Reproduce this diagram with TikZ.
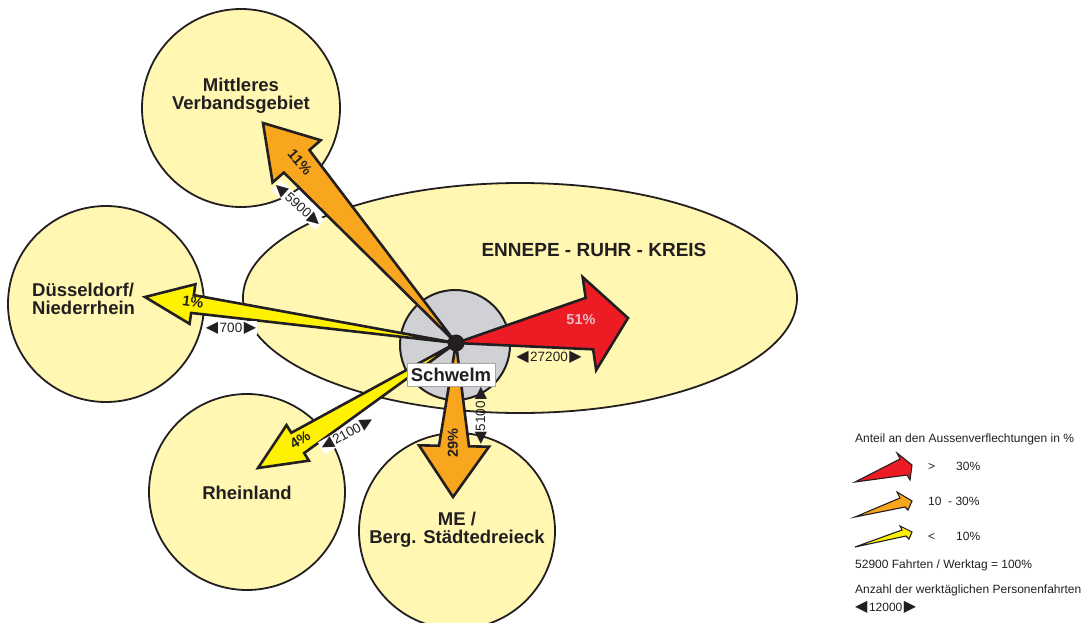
\documentclass[tikz,border=0pt]{standalone}
\usepackage{fontspec}
\setmainfont{Liberation Sans}
\newfontfamily\symfont{DejaVu Sans}
\usetikzlibrary{calc,shapes.geometric}
\definecolor{regfill}{RGB}{255,247,178}
\definecolor{schgray}{RGB}{208,209,212}
\definecolor{flowred}{RGB}{237,28,36}
\definecolor{floworange}{RGB}{248,166,30}
\definecolor{flowyellow}{RGB}{255,242,0}
\definecolor{ink}{RGB}{35,31,32}
\definecolor{pctpink}{RGB}{232,190,198}
% #1 origin, #2 tip, #3 head length, #4 head half width, #5 shaft half width, #6 colour
\newcommand{\flowarrow}[6]{%
  \path ($(#2)!#3pt!(#1)$) coordinate (hb);
  \filldraw[flowline, fill=#6] (#1) -- ($(hb)!#5pt!90:(#2)$) -- ($(hb)!#4pt!90:(#2)$) -- (#2)
    -- ($(hb)!#4pt!-90:(#2)$) -- ($(hb)!#5pt!-90:(#2)$) -- cycle;
}
\newcommand{\ltri}{{\symfont\fontsize{16}{13}\selectfont ◀}\kern1.5pt}
\newcommand{\rtri}{\kern1.5pt{\symfont\fontsize{16}{13}\selectfont ▶}}
\begin{document}
\begin{tikzpicture}[x=1pt,y=-1pt,
  regcircle/.style={circle, draw=ink, fill=regfill, line width=1.8, inner sep=0},
  flowline/.style={draw=ink, line width=2.6, line join=miter},
  regtext/.style={font=\fontsize{18.5}{18}\selectfont\bfseries, text=ink, align=center, inner sep=0},
  pct/.style={font=\fontsize{14.5}{14.5}\selectfont\bfseries, text=ink, inner sep=0},
  countlbl/.style={font=\fontsize{13.5}{13.5}\selectfont, text=ink, inner sep=0.6, fill=white},
  legtext/.style={font=\fontsize{12}{14}\selectfont, text=ink, inner sep=0, anchor=base west},
  legarrow/.style={draw=ink, line width=1.1, line join=miter}]
\useasboundingbox (0,0) rectangle (1088,622);
\clip (0,0) rectangle (1088,622);

% regions
\node[ellipse, draw=ink, fill=regfill, line width=1.8, minimum width=554, minimum height=230, inner sep=0] (erk) at (520,298) {};
\node[regcircle, minimum size=198] (mv) at (241,108) {};
\node[regcircle, minimum size=196] (dn) at (106,304) {};
\node[regcircle, minimum size=196] (rl) at (247,492) {};
\node[regcircle, minimum size=196] (me) at (457,531) {};

\node[regtext] (mvt) at (241,96) {Mittleres\\Verbandsgebiet};
\node[regtext, align=left, anchor=west] (dnt) at (32,299) {Düsseldorf/\\Niederrhein};
\node[regtext] (rlt) at (247,493) {Rheinland};
\node[regtext] (met) at (457,530) {ME /\\Berg. Städtedreieck};
\node[regtext, font=\fontsize{19}{19}\selectfont\bfseries] (erkt) at (594,250) {ENNEPE - RUHR - KREIS};

% Schwelm
\node[circle, draw=ink, fill=schgray, line width=2, minimum size=110, inner sep=0] (sg) at (455,345) {};
\coordinate (c) at (456,343);

% flow arrows
\coordinate (t11) at (263,123);
\coordinate (t1) at (145,297);
\coordinate (t4) at (258,468);
\coordinate (t29) at (453,497);
\coordinate (t51) at (628,318);
\flowarrow{c}{t11}{51}{32}{17}{floworange}
\flowarrow{c}{t1}{48}{20}{9}{flowyellow}
\flowarrow{c}{t4}{47}{21}{12}{flowyellow}
\flowarrow{c}{t29}{51}{35}{15}{floworange}
\flowarrow{c}{t51}{39}{47}{26}{flowred}

\node[circle, fill=ink, minimum size=17, inner sep=0] (dot) at (c) {};
\node[draw=gray!70, fill=white, line width=0.6, font=\fontsize{18.5}{18}\selectfont\bfseries, text=ink, minimum width=88, minimum height=23, inner sep=0] (sch) at (451,374.5) {Schwelm};

% percentages
\node[pct, text=pctpink] (p51) at (581,320) {51\%};
\node[pct, rotate=-49] (p11) at (300,162) {11\%};
\node[pct, rotate=-8] (p1) at (193,302) {1\%};
\node[pct, rotate=32] (p4) at (300,440) {4\%};
\node[pct, rotate=90] (p29) at (453,443) {29\%};

% trip counts
\node[countlbl, rotate=-42] (n5900) at (298,205) {\ltri5900\rtri};
\node[countlbl] (n700) at (231,328) {\ltri700\rtri};
\node[countlbl, rotate=29] (n2100) at (347,434) {\ltri2100\rtri};
\node[countlbl, fill=none] (n27200) at (549,357) {\ltri27200\rtri};
\node[countlbl, fill=none, rotate=90] (n5100) at (481,416) {\ltri5100\rtri};

% legend
\node[legtext] (lg0) at (855,442) {Anteil an den Aussenverflechtungen in \%};
\filldraw[legarrow, fill=flowred] (855,482) -- (900,459) -- (897,453) -- (912,465) -- (910,480) -- (907,475) -- cycle;
\filldraw[legarrow, fill=floworange] (855,517) -- (900,498) -- (897,492) -- (912,501) -- (908,510) -- (905,507) -- cycle;
\filldraw[legarrow, fill=flowyellow] (855,547) -- (902,530) -- (900,526) -- (912,532) -- (909,539) -- (906,536) -- cycle;
\node[legtext] (lg1a) at (928,470) {>};
\node[legtext] (lg1b) at (956,470) {30\%};
\node[legtext] (lg2a) at (928,505) {10};
\node[legtext] (lg2b) at (948,505) {- 30\%};
\node[legtext] (lg3a) at (928,540) {<};
\node[legtext] (lg3b) at (956,540) {10\%};
\node[legtext] (lg4) at (855,568) {52900 Fahrten / Werktag = 100\%};
\node[legtext] (lg5) at (855,593) {Anzahl der werktäglichen Personenfahrten};
\node[legtext] (lg6) at (855,611) {\ltri12000\rtri};
\end{tikzpicture}
\end{document}
